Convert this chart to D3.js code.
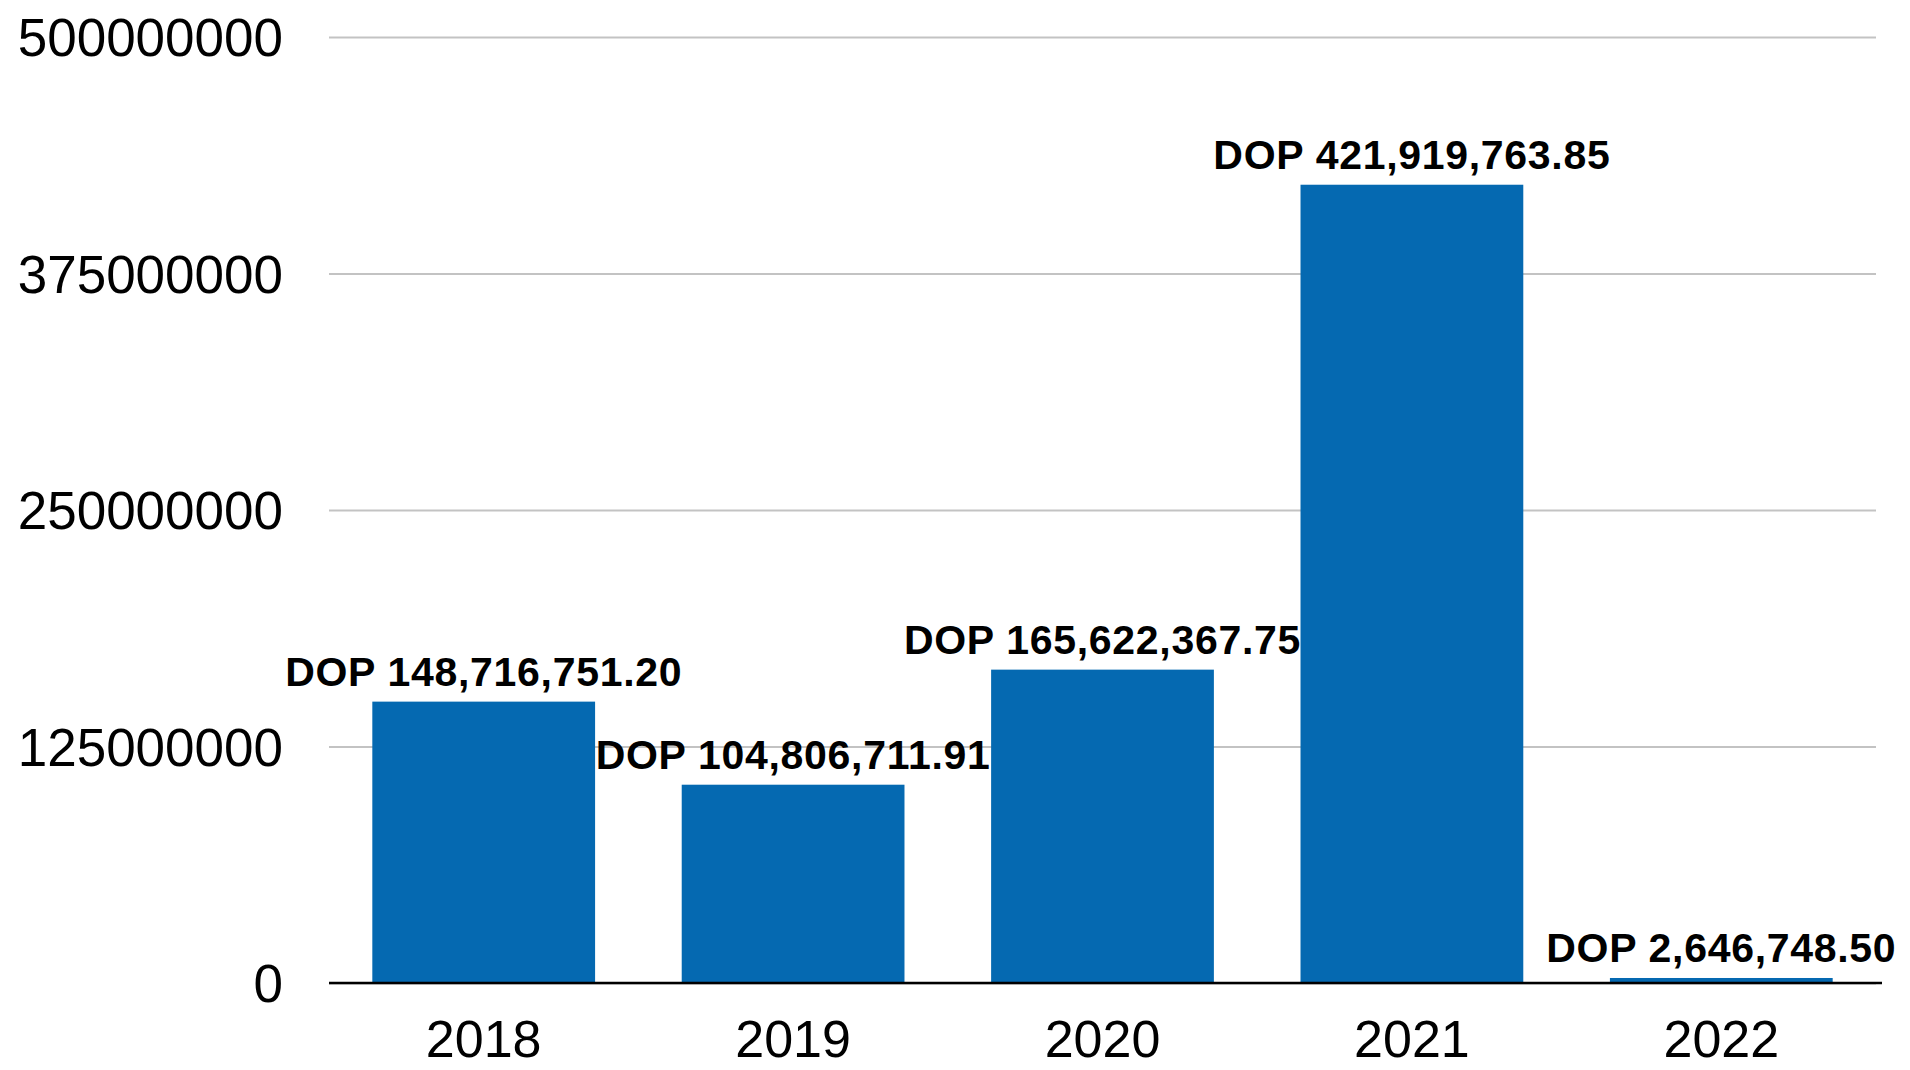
<!DOCTYPE html>
<html>
<head>
<meta charset="utf-8">
<script src="https://cdn.jsdelivr.net/npm/d3@7"></script>
<style>
  body { margin: 0; background: #fff; }
  .axis path { display: none; }
</style>
</head>
<body>
<div id="chart"></div>
<script>
// chart data
var years = ["2018", "2019", "2020", "2021", "2022"];
var amounts = [148716751.20, 104806711.91, 165622367.75, 421919763.85, 2646748.50];
var yTicks = [0, 125000000, 250000000, 375000000, 500000000];

var margin = {top: 37, right: 34, bottom: 87, left: 329};
var width = 1910 - margin.left - margin.right,
    height = 1070 - margin.top - margin.bottom;

var svg = d3.select("#chart")
    .append("svg")
    .attr("width", 1910)
    .attr("height", 1070)
    .append("g")
    .attr("transform", "translate(" + margin.left + "," + margin.top + ")");

var x = d3.scaleBand()
    .domain(years)
    .range([0, width])
    .paddingInner(0.28)
    .paddingOuter(0.14);

var y = d3.scaleLinear()
    .domain([0, 500000000])
    .range([height, 0]);

// gridlines
var grid = svg.append("g")
    .attr("class", "axis")
    .call(d3.axisLeft(y).tickValues(yTicks).tickSize(-width).tickFormat(""));
grid.selectAll("line")
    .attr("stroke", "#c3c3c3")
    .attr("stroke-width", 2);

// y labels
var yAxis = svg.append("g")
    .attr("class", "axis")
    .call(d3.axisLeft(y).tickValues(yTicks).tickSize(0).tickPadding(46).tickFormat(d3.format("d")));
yAxis.selectAll("text")
    .style("font-family", "'Liberation Sans', Arial, sans-serif")
    .style("font-size", "53px")
    .attr("fill", "#000")
    .attr("dy", "0.35em");

// bars
svg.selectAll(".bar")
    .data(years)
    .join("rect")
    .attr("class", "bar")
    .attr("x", d => x(d))
    .attr("y", (d, i) => y(amounts[i]))
    .attr("width", x.bandwidth())
    .attr("height", (d, i) => height - y(amounts[i]))
    .attr("fill", "#0569B1");

// zero line
svg.append("line")
    .attr("x1", 0)
    .attr("x2", width + 6)
    .attr("y1", y(0))
    .attr("y2", y(0))
    .attr("stroke", "#000")
    .attr("stroke-width", 2.5);

// x labels
var xAxis = svg.append("g")
    .attr("class", "axis")
    .attr("transform", "translate(0," + height + ")")
    .call(d3.axisBottom(x).tickSize(0).tickPadding(37));
xAxis.selectAll("text")
    .style("font-family", "'Liberation Sans', Arial, sans-serif")
    .style("font-size", "52px")
    .attr("fill", "#000");

// value labels
var fmt = d3.format(",.2f");
svg.selectAll(".lbl")
    .data(years)
    .join("text")
    .attr("class", "lbl")
    .attr("x", d => x(d) + x.bandwidth() / 2)
    .attr("y", (d, i) => y(amounts[i]) - 16)
    .attr("text-anchor", "middle")
    .style("font-family", "'Liberation Sans', Arial, sans-serif")
    .style("font-weight", "bold")
    .style("font-size", "41px")
    .style("letter-spacing", "0.7px")
    .text((d, i) => "DOP " + fmt(amounts[i]));
</script>
</body>
</html>
